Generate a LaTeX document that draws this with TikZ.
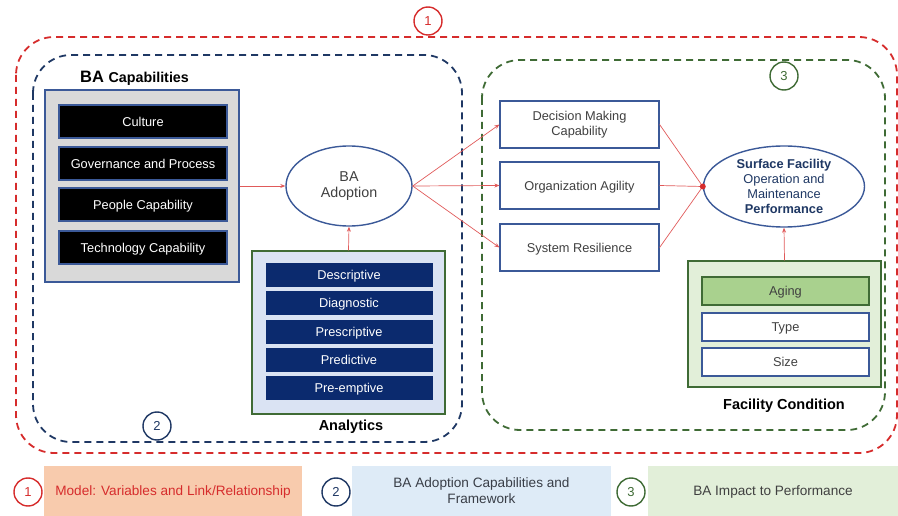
\documentclass[tikz,border=0pt]{standalone}
\usepackage{fontspec}
\setmainfont{Liberation Sans}
\usetikzlibrary{arrows.meta,shapes.geometric}
\definecolor{redd}{HTML}{D62C2C}
\definecolor{navyd}{HTML}{1F3864}
\definecolor{greend}{HTML}{3F6B35}
\definecolor{bordb}{HTML}{3B5998}
\definecolor{navyfill}{HTML}{0B2A6E}
\definecolor{grayfill}{HTML}{D9D9D9}
\definecolor{ltblue}{HTML}{DAE3F3}
\definecolor{ltgreen}{HTML}{E2EFD9}
\definecolor{midgreen}{HTML}{A9D18E}
\definecolor{peach}{HTML}{F8CBAD}
\definecolor{legblue}{HTML}{DEEBF7}
\definecolor{arrowred}{HTML}{E05A5A}
\definecolor{txtgray}{HTML}{404040}
\tikzset{
  dashframe/.style={line width=1.8pt, dash pattern=on 7pt off 5pt, rounded corners=38pt},
  numcirc/.style={circle, draw, line width=1.4pt, minimum size=28pt, inner sep=0pt, font=\fontsize{13}{15}\selectfont},
  onel/.style={text height=9.6pt, text depth=0pt},
  blackbox/.style={onel, draw=bordb, line width=1.2pt, fill=black, text=white, minimum width=168pt, minimum height=33pt, inner sep=0pt, font=\fontsize{12.8}{15}\selectfont},
  navybox/.style={onel, draw=ltblue, line width=0.8pt, fill=navyfill, text=white, minimum width=168pt, minimum height=25pt, inner sep=0pt, font=\fontsize{12.8}{15}\selectfont},
  whitebox/.style={draw=bordb, line width=1.2pt, fill=white, text=txtgray, minimum width=159pt, minimum height=47pt, inner sep=0pt, align=center, font=\fontsize{12.8}{15}\selectfont},
  condbox/.style={onel, draw=bordb, line width=1.2pt, fill=white, text=txtgray, minimum width=167pt, minimum height=28pt, inner sep=0pt, font=\fontsize{12.8}{15}\selectfont},
  ell/.style={ellipse, draw=bordb, line width=1.4pt, fill=white, inner sep=0pt, align=center},
  conn/.style={draw=arrowred, line width=0.7pt, -{Stealth[length=5pt,width=4pt]}},
  lbl/.style={font=\fontsize{14.5}{17}\selectfont\bfseries, text=black},
  legbox/.style={minimum height=51pt, inner sep=0pt, align=center, font=\fontsize{13.6}{16}\selectfont}
}
\begin{document}
\begin{tikzpicture}[x=1pt,y=-1pt]
\useasboundingbox (0,0) rectangle (898,516);
% frames
\draw[dashframe, draw=redd] (16,37) rectangle (897,453);
\draw[dashframe, draw=navyd] (33,55) rectangle (462,442);
\draw[dashframe, draw=greend] (482,60) rectangle (885,430);
\node[numcirc, draw=redd, text=redd, fill=white] (c1) at (428,21) {1};
\node[numcirc, draw=navyd, text=navyd, fill=white] (c2) at (157,426) {2};
\node[numcirc, draw=greend, text=greend, fill=white] (c3) at (784,76) {3};

% BA capabilities
\node[anchor=west, font=\bfseries, inner sep=0pt] (capl) at (80,78) {\fontsize{16.5}{18}\selectfont BA \fontsize{14.3}{16}\selectfont Capabilities};
\node[draw=bordb, line width=1.2pt, fill=grayfill, minimum width=194pt, minimum height=192pt, inner sep=0pt] (cap) at (142,186) {};
\node[blackbox] (cult) at (143,121.5) {Culture};
\node[blackbox] (gov) at (143,163.5) {Governance and Process};
\node[blackbox] (peop) at (143,204.5) {People Capability};
\node[blackbox] (tech) at (143,247.5) {Technology Capability};

% BA Adoption
\node[ell, minimum width=126pt, minimum height=80pt, text=txtgray, font=\fontsize{14.3}{16.5}\selectfont] (adopt) at (349,186) {BA\\Adoption};

% Analytics
\node[draw=greend, line width=1.4pt, fill=ltblue, minimum width=193pt, minimum height=163pt, inner sep=0pt] (anal) at (348.5,332.5) {};
\node[navybox] (desc) at (349,275) {Descriptive};
\node[navybox] (diag) at (349,303) {Diagnostic};
\node[navybox] (pres) at (349,331.5) {Prescriptive};
\node[navybox] (pred) at (349,359.5) {Predictive};
\node[navybox] (pree) at (349,388) {Pre-emptive};
\node[lbl] (anl) at (351,427) {Analytics};

% right boxes
\node[whitebox] (dec) at (579.5,124.5) {Decision Making\\Capability};
\node[whitebox, onel] (org) at (579.5,185.5) {Organization Agility};
\node[whitebox, onel] (sys) at (579.5,247.5) {System Resilience};

% Performance
\node[ell, minimum width=161pt, minimum height=81pt, text=navyd, font=\fontsize{12.8}{15}\selectfont] (perf) at (784,186.5) {\textbf{Surface Facility}\\Operation and\\Maintenance\\\textbf{Performance}};

% Facility condition
\node[draw=greend, line width=1.4pt, fill=ltgreen, minimum width=193pt, minimum height=126pt, inner sep=0pt] (fac) at (784.5,324) {};
\node[condbox, fill=midgreen, draw=greend] (aging) at (785.5,291) {Aging};
\node[condbox] (type) at (785.5,327) {Type};
\node[condbox] (size) at (785.5,362) {Size};
\node[lbl] (facl) at (784,406) {Facility Condition};

% connectors
\draw[conn] (cap.east |- adopt) -- (adopt.west);
\draw[conn] (anal.north) -- (adopt.south);
\draw[conn] (adopt.east) -- (dec.west);
\draw[conn] (adopt.east) -- (org.west);
\draw[conn] (adopt.east) -- (sys.west);
\coordinate (pin) at (perf.west);
\draw[draw=arrowred, line width=0.7pt] (dec.east) -- (pin);
\draw[draw=arrowred, line width=0.7pt] (org.east) -- (pin);
\draw[draw=arrowred, line width=0.7pt] (sys.east) -- (pin);
\fill[redd] (pin) circle (3pt);
\draw[conn] (fac.north) -- (perf.south);

% legend
\node[legbox, onel, fill=peach, minimum width=258pt, text=redd] (l1) at (173,491) {Model: Variables and Link/Relationship};
\node[legbox, fill=legblue, minimum width=259pt, text=txtgray!80!navyd] (l2) at (481.5,491) {BA Adoption Capabilities and\\Framework};
\node[legbox, onel, fill=ltgreen, minimum width=250pt, text=txtgray] (l3) at (773,491) {BA Impact to Performance};
\node[numcirc, draw=redd, text=redd] (k1) at (28,492) {1};
\node[numcirc, draw=navyd, text=navyd] (k2) at (336,492) {2};
\node[numcirc, draw=greend, text=greend] (k3) at (631,492) {3};
\end{tikzpicture}
\end{document}
